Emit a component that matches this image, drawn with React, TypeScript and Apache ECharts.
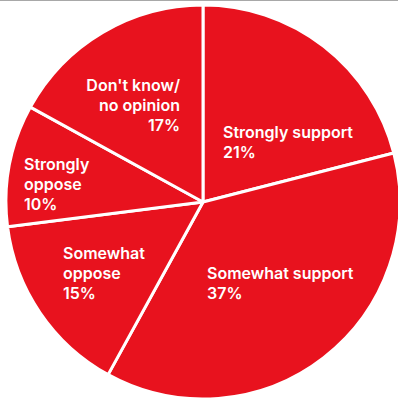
import React, { useEffect, useRef } from "react";
import * as echarts from "echarts";

const categories = ["Strongly support", "Somewhat support", "Somewhat oppose", "Strongly oppose", "Don't know/no opinion"];
const labelLines = [
  ["Strongly support"],
  ["Somewhat support"],
  ["Somewhat", "oppose"],
  ["Strongly", "oppose"],
  ["Don't know/", "no opinion"],
];
const values = [21, 37, 15, 10, 17];

// label anchor positions (layout only)
const labelPos: { x: number; y: number; align: "left" | "right" }[] = [
  { x: 223, y: 122, align: "left" },
  { x: 207, y: 263, align: "left" },
  { x: 63, y: 243, align: "left" },
  { x: 24, y: 154, align: "left" },
  { x: 180, y: 75, align: "right" },
];

const RED = "#E8121E";

export default function App() {
  const ref = useRef<HTMLDivElement>(null);
  useEffect(() => {
    document.body.style.margin = "0";
    const chart = echarts.init(ref.current!, null, { renderer: "svg" });
    chart.setOption({
      animation: false,
      backgroundColor: "#ffffff",
      graphic: [
        { type: "rect", shape: { x: 0, y: 0, width: 398, height: 1 }, style: { fill: "#a8a8a8" } },
      ],
      series: [
        {
          type: "pie",
          center: [203, 202],
          radius: [0, 197],
          startAngle: 90,
          clockwise: true,
          silent: true,
          itemStyle: { color: RED, borderColor: "#ffffff", borderWidth: 3 },
          label: {
            show: true,
            position: "inside",
            color: "#ffffff",
            fontFamily: "Inter",
            fontWeight: 600,
            fontSize: 16,
            lineHeight: 20,
            formatter: (p: any) => [...labelLines[p.dataIndex], `${values[p.dataIndex]}%`].join("\n"),
          },
          labelLine: { show: false },
          labelLayout: (p: any) => {
            const pos = labelPos[p.dataIndex];
            return { x: pos.x, y: pos.y, align: pos.align, verticalAlign: "top" };
          },
          data: categories.map((name, i) => ({ name, value: values[i] })),
        },
      ],
    });
    return () => chart.dispose();
  }, []);
  return <div ref={ref} style={{ width: 398, height: 404 }} />;
}
